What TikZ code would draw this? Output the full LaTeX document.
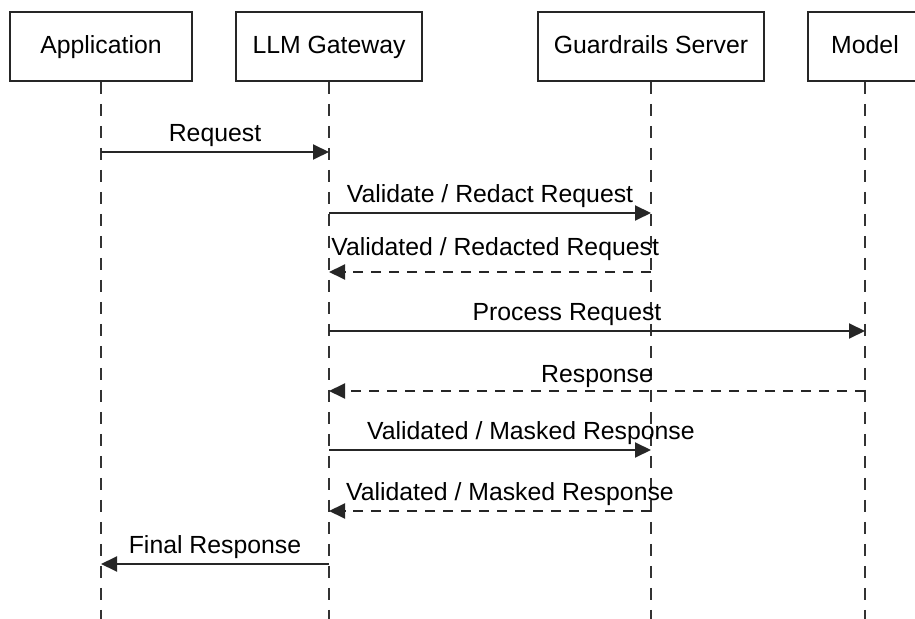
\documentclass[tikz,border=0pt]{standalone}
\usepackage{fontspec}
\setmainfont{Liberation Sans}
\usetikzlibrary{arrows.meta,positioning}

\begin{document}
\begin{tikzpicture}[x=0.5pt,y=-0.5pt,
  actor/.style={draw=black!85,line width=0.9pt,minimum height=34.5pt,inner sep=0pt,
    text height=1.6ex,text depth=0.35ex,font=\fontsize{12.4}{14}\selectfont},
  life/.style={draw=black!80,line width=0.75pt,dash pattern=on 6pt off 5pt},
  msg/.style={draw=black!85,line width=0.95pt,-{Triangle[length=8pt,width=7.5pt]}},
  reply/.style={msg,dash pattern=on 5pt off 4pt},
  lbl/.style={above,font=\fontsize{12.4}{14}\selectfont,inner sep=2pt}]
  \useasboundingbox (0,0) rectangle (915,619);

  % participants
  \node[actor,minimum width=91pt]  (app)   at (101,46.5) {Application};
  \node[actor,minimum width=93pt]  (gw)    at (329,46.5) {LLM Gateway};
  \node[actor,minimum width=113pt] (guard) at (651,46.5) {Guardrails Server};
  \node[actor,minimum width=57pt]  (model) at (865,46.5) {Model};

  % lifelines
  \foreach \p in {app,gw,guard,model}
    \draw[life] (\p.south) -- (\p.south |- 0,619);

  % messages
  \draw[msg]   (app |- 0,152)   -- (gw |- 0,152)    node[lbl,midway] {Request};
  \draw[msg]   (gw |- 0,213)    -- (guard |- 0,213) node[lbl,midway] {Validate / Redact Request};
  \draw[reply] (guard |- 0,272) -- (gw |- 0,272)    node[lbl,pos=0.484,yshift=3pt] {Validated / Redacted Request};
  \draw[msg]   (gw |- 0,331)    -- (model |- 0,331) node[lbl,pos=0.444] {Process Request};
  \draw[reply] (model |- 0,391) -- (gw |- 0,391)    node[lbl,midway,inner sep=1pt] {Response};
  \draw[msg]   (gw |- 0,450)    -- (guard |- 0,450) node[lbl,pos=0.627] {Validated / Masked Response};
  \draw[reply] (guard |- 0,511) -- (gw |- 0,511)    node[lbl,pos=0.438] {Validated / Masked Response};
  \draw[msg]   (gw |- 0,564)    -- (app |- 0,564)   node[lbl,midway] {Final Response};

\end{tikzpicture}
\end{document}
